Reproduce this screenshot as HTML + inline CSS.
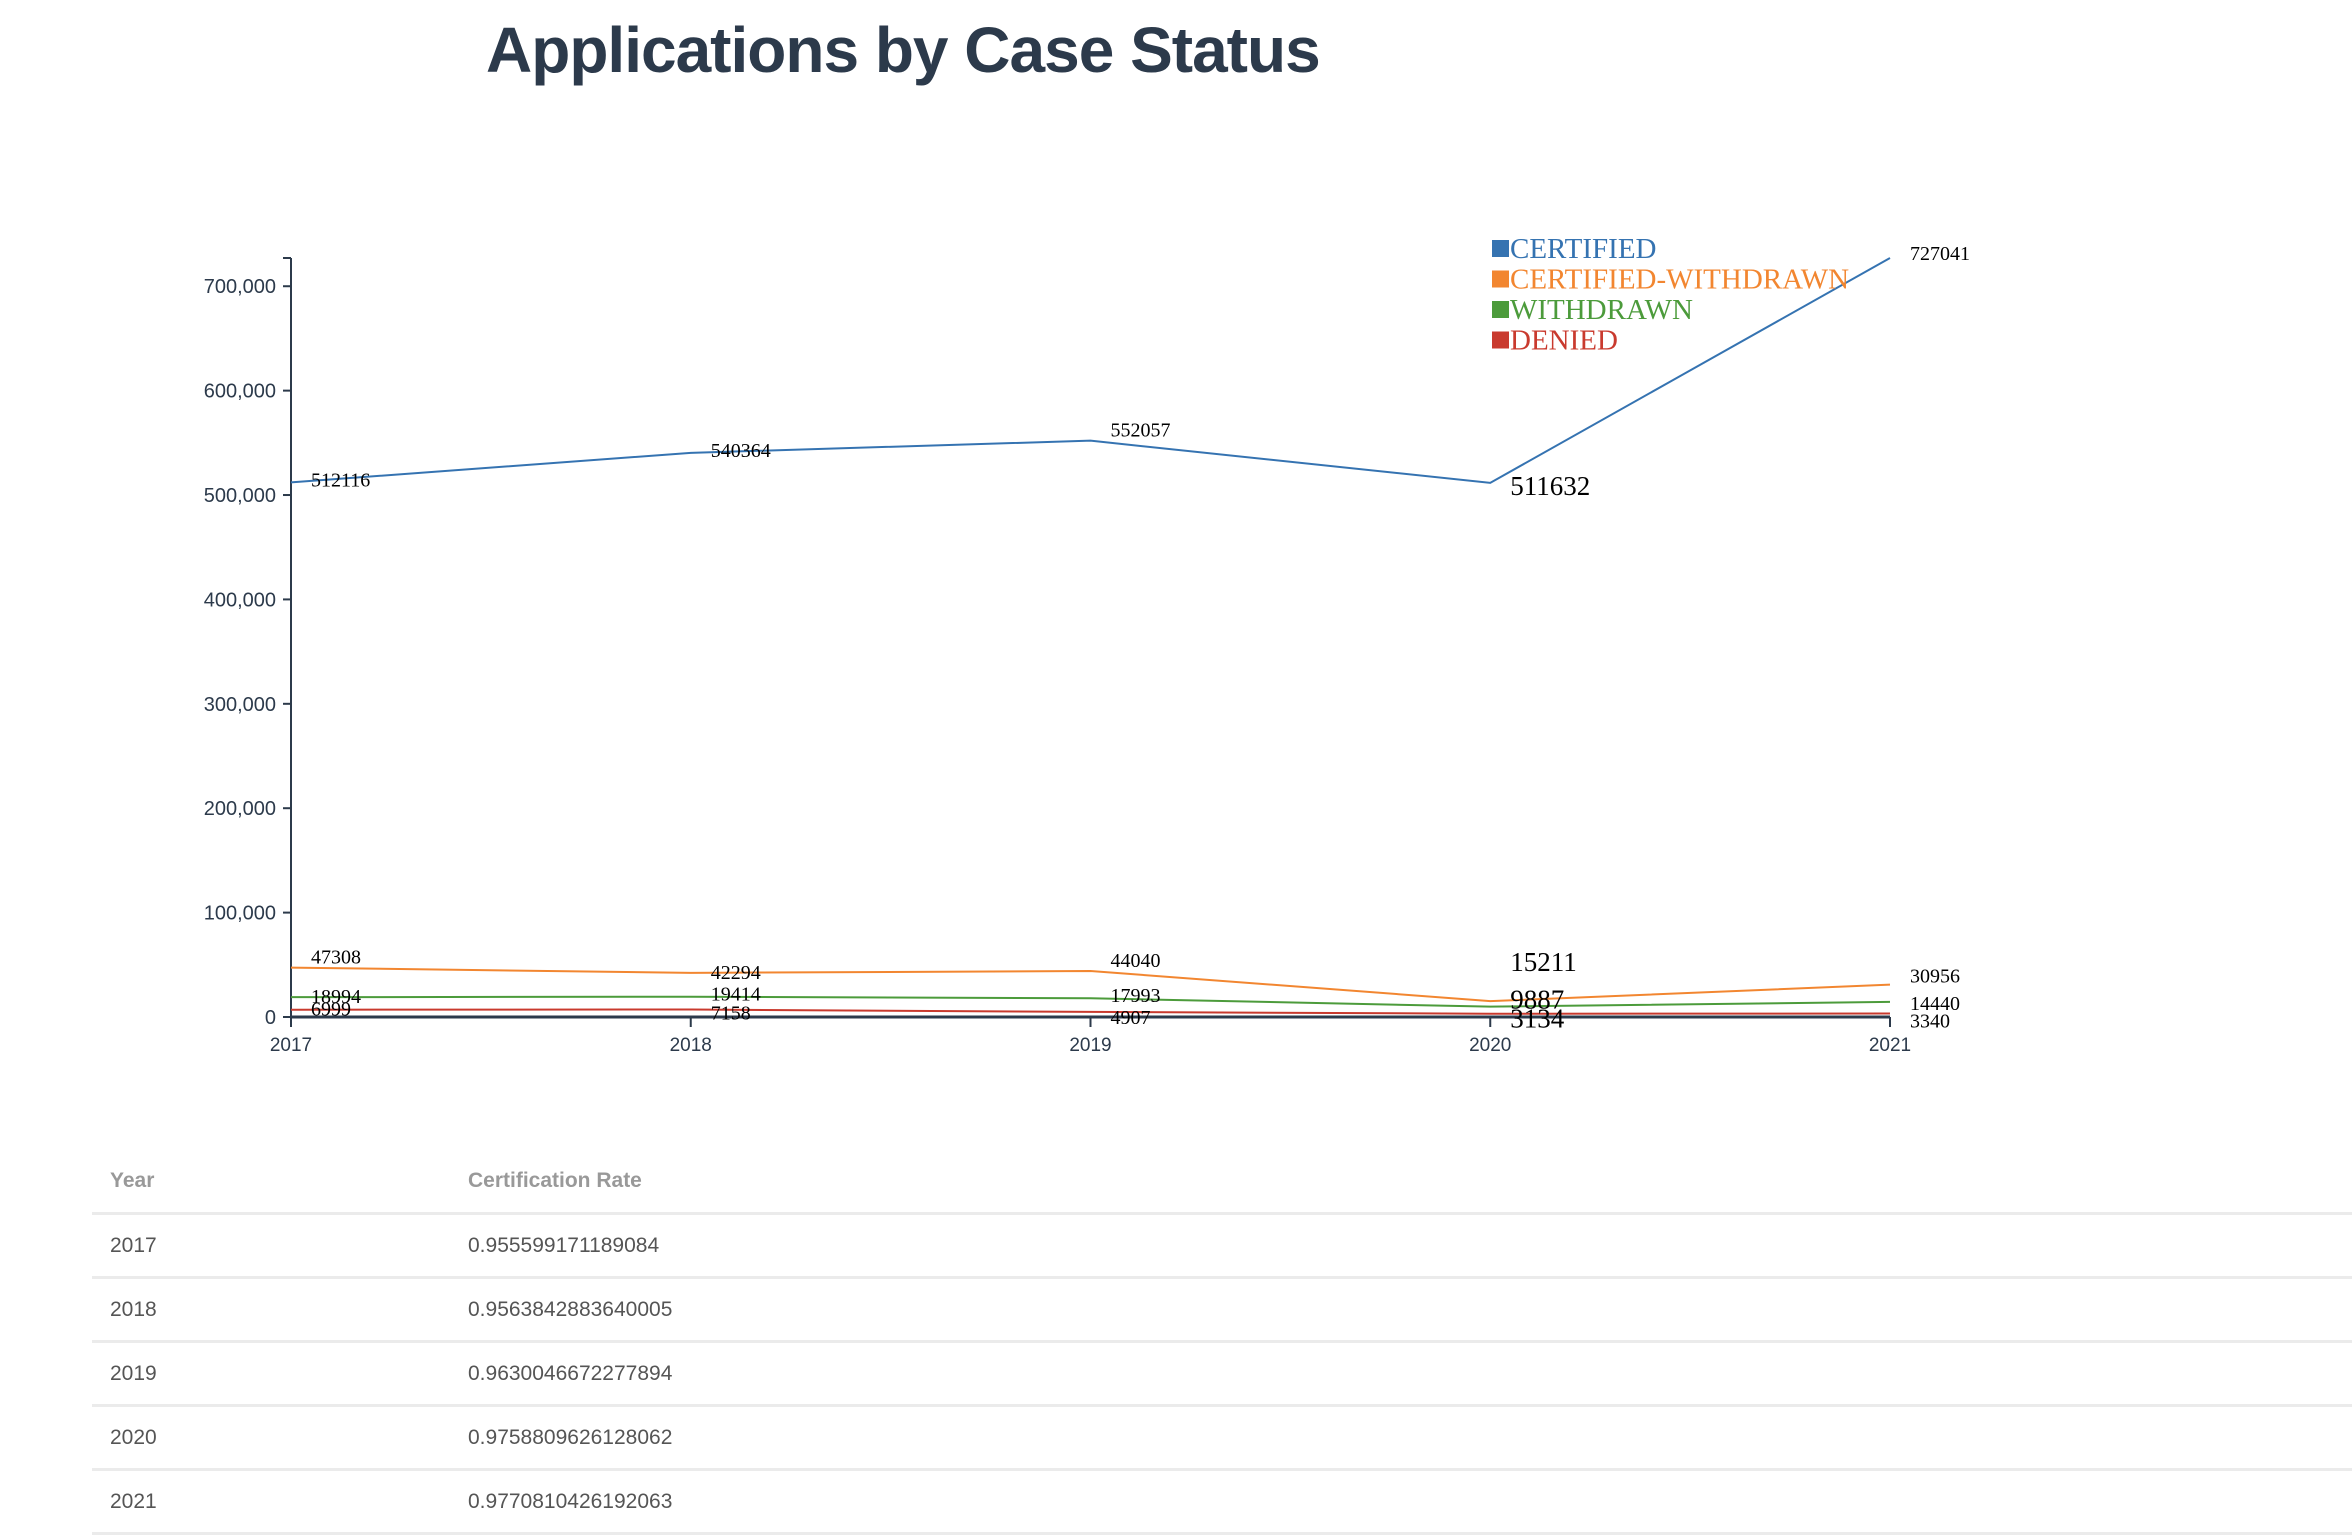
<!DOCTYPE html>
<html><head><meta charset="utf-8">
<style>
body{margin:0;width:2352px;height:1514px;background:#fff;overflow:hidden;font-family:"Liberation Sans",sans-serif;position:relative}
h1{position:absolute;left:486px;top:13px;margin:0;font-size:64px;font-weight:bold;color:#2c3a4b;letter-spacing:-1px}
table{position:absolute;left:92px;top:1150px;width:2260px;border-collapse:collapse;font-size:21px;color:#555}
th{text-align:left;color:#999;font-weight:bold;height:62px;border-bottom:3px solid #ebebeb;padding:0 0 0 18px}
td{height:61px;border-bottom:3px solid #ebebeb;padding:0 0 0 18px}
</style></head><body>
<h1>Applications by Case Status</h1>
<svg id="chart" width="2352" height="1120" style="position:absolute;left:0;top:0"></svg>
<table>
<tr><th style="width:340px">Year</th><th>Certification Rate</th></tr>
<tr><td>2017</td><td>0.955599171189084</td></tr>
<tr><td>2018</td><td>0.9563842883640005</td></tr>
<tr><td>2019</td><td>0.9630046672277894</td></tr>
<tr><td>2020</td><td>0.9758809626128062</td></tr>
<tr><td>2021</td><td>0.9770810426192063</td></tr>
</table>
<script>
const years=[2017,2018,2019,2020,2021];
const certified=[512116,540364,552057,511632,727041];
const certWithdrawn=[47308,42294,44040,15211,30956];
const withdrawn=[18994,19414,17993,9887,14440];
const denied=[6999,7158,4907,3134,3340];
const yTicks=[0,100000,200000,300000,400000,500000,600000,700000];
const seriesNames=["CERTIFIED","CERTIFIED-WITHDRAWN","WITHDRAWN","DENIED"];
const seriesColors=["#3573b1","#f28630","#4c9b3b","#c93a2e"];
const seriesData=[certified,certWithdrawn,withdrawn,denied];

const NS="http://www.w3.org/2000/svg";
const svg=document.getElementById('chart');
const X0=291,X1=1890,Y0=1017,Y1=258;
const yMax=Math.max(...certified);
const xs=i=>X0+(X1-X0)*i/(years.length-1);
const ys=v=>Y0-(Y0-Y1)*v/yMax;
function mk(t,a){const e=document.createElementNS(NS,t);for(const k in a)e.setAttribute(k,a[k]);svg.appendChild(e);return e;}
let ax=mk('line',{x1:X0,y1:Y1,x2:X0,y2:Y0,stroke:'#2c3a4b','stroke-width':2});


mk('line',{x1:X0-8,y1:Y1,x2:X0,y2:Y1,stroke:'#2c3a4b','stroke-width':2});
yTicks.forEach(v=>{
  mk('line',{x1:X0-8,y1:ys(v),x2:X0,y2:ys(v),stroke:'#2c3a4b','stroke-width':2});
  const t=mk('text',{x:X0-15,y:ys(v)+7,'text-anchor':'end','font-size':20,fill:'#2c3a4b','font-family':'Liberation Sans, sans-serif'});
  t.textContent=v.toLocaleString('en-US');
  
  
});
let xa=mk('line',{x1:X0,y1:Y0,x2:X1,y2:Y0,stroke:'#2c3a4b','stroke-width':3});


years.forEach((y,i)=>{
  mk('line',{x1:xs(i),y1:Y0,x2:xs(i),y2:Y0+10,stroke:'#2c3a4b','stroke-width':2});
  const t=mk('text',{x:xs(i),y:Y0+34,'text-anchor':'middle','font-size':19,fill:'#2c3a4b','font-family':'Liberation Sans, sans-serif'});
  t.textContent=y;
  
  
});
const labelDy=[[4,4,-4,6,2],[-4,6,-4,-36,-2],[6,4,4,-4,8],[6,10,12,8,14]];
seriesData.forEach((d,s)=>{
  const p=mk('polyline',{points:d.map((v,i)=>xs(i)+','+ys(v)).join(' '),fill:'none',stroke:seriesColors[s],'stroke-width':2});
  
  
  d.forEach((v,i)=>{
    const big=i===3;
    const t=mk('text',{x:xs(i)+20,y:ys(v)+labelDy[s][i]+(big?6:0),'font-size':big?27:20,fill:'#000','font-family':'Liberation Serif, serif'});
    t.textContent=v;
    
    
  });
});
seriesNames.forEach((n,s)=>{
  const y=249+s*30.5;
  const r=mk('rect',{x:1492,y:y-9,width:17,height:17,fill:seriesColors[s]});
  
  
  const t=mk('text',{x:1510,y:y+9,'font-size':29,fill:seriesColors[s],'font-family':'Liberation Serif, serif'});
  t.textContent=n;
  
  
});
</script>
</body></html>
